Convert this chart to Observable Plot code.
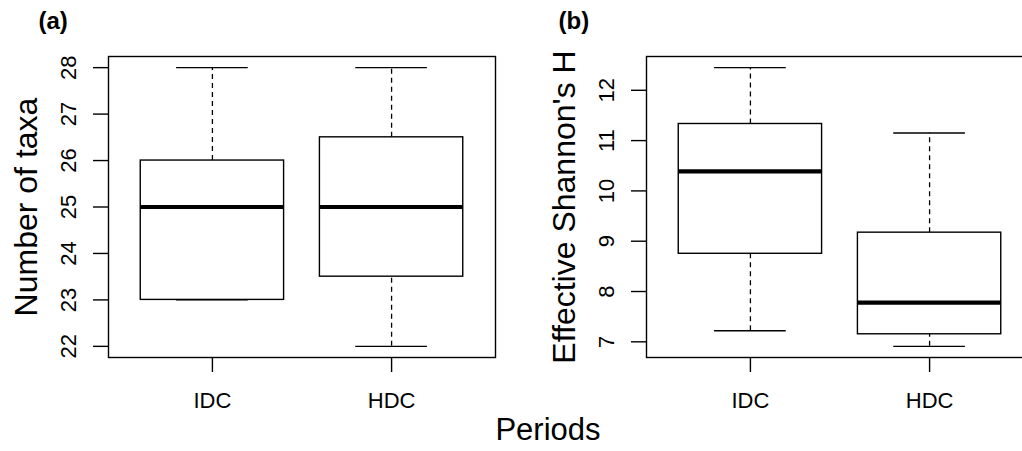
<!DOCTYPE html>
<html>
<head>
<meta charset="utf-8">
<script src="https://cdn.jsdelivr.net/npm/d3@7"></script>
<script src="https://cdn.jsdelivr.net/npm/@observablehq/plot@0.6"></script>
<style>
  html, body { margin: 0; padding: 0; background: white; }
  #wrap { position: relative; width: 1022px; height: 451px; overflow: hidden; background: white;
          font-family: "Liberation Sans", Arial, Helvetica, sans-serif; color: black; }
  .panel { position: absolute; top: 0; }
  #pa { left: 0px; width: 520px; }
  #pb { left: 520px; width: 513px; }
  .panel svg { max-width: none !important; }
  #xtitle { position: absolute; left: 548px; top: 445px; transform: translate(-50%, -100%);
            font-size: 31px; line-height: 1; white-space: nowrap; }
</style>
</head>
<body>
<div id="wrap">
  <div id="pa" class="panel"></div>
  <div id="pb" class="panel"></div>
  <div id="xtitle"></div>
</div>
<script>
// ---- data ----
const periods = ["IDC", "HDC"];

// Panel (a): Number of taxa
const taxaMin    = [23, 22];
const taxaQ1     = [23, 23.5];
const taxaMedian = [25, 25];
const taxaQ3     = [26, 26.5];
const taxaMax    = [28, 28];
const taxaTicks  = [22, 23, 24, 25, 26, 27, 28];

// Panel (b): Effective Shannon's H
const shanMin    = [7.22, 6.91];
const shanQ1     = [8.75, 7.15];
const shanMedian = [10.39, 7.78];
const shanQ3     = [11.33, 9.17];
const shanMax    = [12.45, 11.15];
const shanTicks  = [7, 8, 9, 10, 11, 12];

const panelLabels = ["(a)", "(b)"];
const yTitles = ["Number of taxa", "Effective Shannon's H"];
const xTitle = "Periods";

function rows(mins, q1s, meds, q3s, maxs) {
  return periods.map((p, i) => ({
    period: p, pos: i + 1,
    min: mins[i], q1: q1s[i], median: meds[i], q3: q3s[i], max: maxs[i]
  }));
}

function expand(lo, hi) {
  const p = 0.04 * (hi - lo);
  return [lo - p, hi + p];
}

function boxPanel({data, ticks, yTitle, tag, width, marginLeft, marginRight}) {
  const yDom = expand(d3.min(data, d => d.min), d3.max(data, d => d.max));
  const xDom = expand(0.5, periods.length + 0.5);
  const half = 0.4, cap = 0.2;
  return Plot.plot({
    width, height: 451,
    marginLeft, marginRight, marginTop: 56, marginBottom: 94,
    style: {fontFamily: "'Liberation Sans', Arial, Helvetica, sans-serif", fontSize: "22px", color: "black", background: "white", maxWidth: "none"},
    x: {type: "linear", domain: xDom},
    y: {type: "linear", domain: yDom},
    marks: [
      Plot.frame({stroke: "black", strokeWidth: 1.4}),
      // whiskers (dashed)
      Plot.ruleX(data, {x: "pos", y1: "q3", y2: "max", stroke: "black", strokeWidth: 1.3, strokeDasharray: "5,4"}),
      Plot.ruleX(data, {x: "pos", y1: "min", y2: "q1", stroke: "black", strokeWidth: 1.3, strokeDasharray: "5,4"}),
      // whisker caps
      Plot.ruleY(data, {y: "max", x1: d => d.pos - cap, x2: d => d.pos + cap, stroke: "black", strokeWidth: 1.4}),
      Plot.ruleY(data, {y: "min", x1: d => d.pos - cap, x2: d => d.pos + cap, stroke: "black", strokeWidth: 1.4}),
      // boxes
      Plot.rect(data, {x1: d => d.pos - half, x2: d => d.pos + half, y1: "q1", y2: "q3", fill: "white", stroke: "black", strokeWidth: 1.4}),
      // medians
      Plot.ruleY(data, {y: "median", x1: d => d.pos - half, x2: d => d.pos + half, stroke: "black", strokeWidth: 4.2}),
      // axes
      Plot.axisX({ticks: periods.map((p, i) => i + 1), tickFormat: v => periods[v - 1], tickSize: 15, tickPadding: 20, fontSize: 22, strokeWidth: 1.4, label: null}),
      Plot.axisY({ticks, tickFormat: d => String(d), tickSize: 15, tickPadding: 18, tickRotate: -90, fontSize: 22, strokeWidth: 1.4, label: null}),
      // y title
      Plot.text([yTitle], {text: d => d, frameAnchor: "left", rotate: -90, dx: -72, lineAnchor: "bottom", textAnchor: "middle", fontSize: 32, fill: "black"}),
      // panel tag
      Plot.text([tag], {text: d => d, frameAnchor: "top-left", dx: 38 - marginLeft, dy: 28 - 56, textAnchor: "start", lineAnchor: "bottom", fontSize: 24, fontWeight: "bold", fill: "black"})
    ]
  });
}

const dataA = rows(taxaMin, taxaQ1, taxaMedian, taxaQ3, taxaMax);
const dataB = rows(shanMin, shanQ1, shanMedian, shanQ3, shanMax);

document.getElementById("pa").append(boxPanel({
  data: dataA, ticks: taxaTicks, yTitle: yTitles[0], tag: panelLabels[0],
  width: 520, marginLeft: 108, marginRight: 25
}));
document.getElementById("pb").append(boxPanel({
  data: dataB, ticks: shanTicks, yTitle: yTitles[1], tag: panelLabels[1],
  width: 513, marginLeft: 126, marginRight: 0
}));
document.getElementById("xtitle").textContent = xTitle;
</script>
</body>
</html>
